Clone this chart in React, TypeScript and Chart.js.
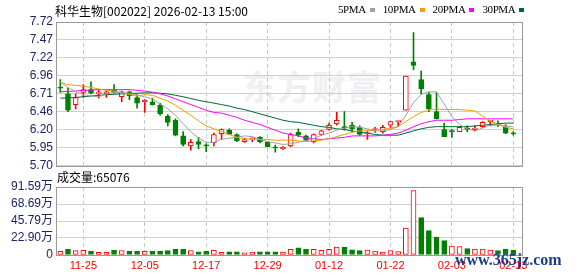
import React, { useEffect, useRef } from "react";
import { Chart, registerables } from "chart.js";

Chart.register(...registerables);

const stockTitle = "科华生物[002022] 2026-02-13 15:00";
const volumeTitle = "成交量";
const lastVolume = "65076";
const maLabels = ["5PMA", "10PMA", "20PMA", "30PMA"];

const dates = [
  "11-20", "11-21", "11-24", "11-25", "11-26", "11-27", "11-28", "12-01", "12-02", "12-03",
  "12-04", "12-05", "12-08", "12-09", "12-10", "12-11", "12-12", "12-15", "12-16", "12-17",
  "12-18", "12-19", "12-22", "12-23", "12-24", "12-25", "12-26", "12-29", "12-30", "12-31",
  "01-05", "01-06", "01-07", "01-08", "01-09", "01-12", "01-13", "01-14", "01-15", "01-16",
  "01-19", "01-20", "01-21", "01-22", "01-23", "01-26", "01-27", "01-28", "01-29", "01-30",
  "02-02", "02-03", "02-04", "02-05", "02-06", "02-09", "02-10", "02-11", "02-12", "02-13",
];
const tickDates = ["11-25", "12-05", "12-17", "12-29", "01-12", "01-22", "02-03", "02-13"];

const opens = [
  6.80, 6.71, 6.56, 6.73, 6.77, 6.71, 6.71, 6.76, 6.67, 6.74,
  6.66, 6.60, 6.60, 6.55, 6.40, 6.34, 6.12, 5.98, 6.04, 5.99,
  6.02, 6.15, 6.20, 6.14, 6.04, 6.08, 6.10, 6.03, 5.96, 5.94,
  5.98, 6.17, 6.12, 6.04, 6.14, 6.21, 6.29, 6.25, 6.27, 6.24,
  6.15, 6.21, 6.18, 6.27, 6.32, 6.48, 7.16, 6.91, 6.70, 6.46,
  6.21, 6.19, 6.18, 6.23, 6.21, 6.25, 6.32, 6.29, 6.24, 6.16,
];
const highs = [
  6.91, 6.79, 6.71, 6.84, 6.88, 6.77, 6.75, 6.84, 6.75, 6.75,
  6.70, 6.63, 6.65, 6.58, 6.42, 6.36, 6.18, 6.07, 6.10, 6.01,
  6.16, 6.22, 6.22, 6.15, 6.09, 6.09, 6.11, 6.04, 5.99, 5.97,
  6.16, 6.22, 6.13, 6.15, 6.20, 6.30, 6.45, 6.46, 6.31, 6.26,
  6.19, 6.24, 6.27, 6.32, 6.33, 6.96, 7.57, 7.03, 6.73, 6.73,
  6.30, 6.21, 6.25, 6.26, 6.26, 6.32, 6.34, 6.33, 6.28, 6.18,
];
const lows = [
  6.73, 6.46, 6.50, 6.66, 6.71, 6.65, 6.66, 6.72, 6.60, 6.63,
  6.51, 6.45, 6.55, 6.41, 6.26, 6.12, 5.98, 5.92, 5.94, 5.90,
  5.98, 6.07, 6.14, 6.04, 6.03, 6.04, 6.02, 5.97, 5.89, 5.93,
  5.97, 6.11, 6.05, 6.02, 6.13, 6.20, 6.27, 6.20, 6.18, 6.13,
  6.07, 6.17, 6.16, 6.23, 6.26, 6.48, 7.05, 6.71, 6.46, 6.36,
  6.11, 6.10, 6.18, 6.18, 6.19, 6.24, 6.26, 6.25, 6.15, 6.13,
];
const closes = [
  6.79, 6.48, 6.66, 6.77, 6.72, 6.73, 6.74, 6.73, 6.74, 6.68,
  6.58, 6.62, 6.56, 6.43, 6.31, 6.13, 6.00, 6.03, 6.00, 5.98,
  6.14, 6.21, 6.14, 6.05, 6.07, 6.08, 6.04, 5.97, 5.95, 5.96,
  6.14, 6.13, 6.06, 6.14, 6.19, 6.27, 6.34, 6.23, 6.22, 6.14,
  6.16, 6.21, 6.24, 6.32, 6.33, 6.96, 7.11, 6.78, 6.50, 6.36,
  6.11, 6.18, 6.24, 6.21, 6.23, 6.31, 6.34, 6.28, 6.16, 6.15,
];
// volume in 万
const volumes = [
  5.0, 7.5, 6.0, 6.2, 5.0, 3.6, 3.6, 6.3, 6.0, 5.0,
  5.0, 5.0, 5.0, 5.0, 6.0, 7.8, 7.8, 6.0, 4.2, 5.0,
  6.3, 3.6, 4.2, 4.2, 2.8, 3.8, 4.2, 4.2, 4.2, 3.8,
  7.6, 9.6, 7.8, 7.8, 6.3, 7.8, 10.5, 10.5, 7.0, 5.8,
  6.7, 5.4, 4.0, 5.8, 4.5, 36.4, 86.6, 50.3, 32.8, 23.8,
  19.3, 12.1, 11.2, 8.5, 8.1, 8.1, 6.7, 5.8, 8.1, 6.5,
];
const ma5 = [
  6.88, 6.80, 6.74, 6.70, 6.68, 6.67, 6.71, 6.73, 6.73, 6.72,
  6.69, 6.67, 6.64, 6.57, 6.50, 6.41, 6.29, 6.18, 6.09, 6.03,
  6.03, 6.07, 6.09, 6.10, 6.12, 6.11, 6.07, 6.04, 6.02, 6.00,
  6.01, 6.03, 6.05, 6.08, 6.13, 6.16, 6.20, 6.23, 6.25, 6.24,
  6.22, 6.19, 6.19, 6.21, 6.25, 6.41, 6.59, 6.70, 6.74, 6.74,
  6.57, 6.39, 6.28, 6.22, 6.19, 6.23, 6.27, 6.27, 6.26, 6.25,
];
const ma10 = [
  6.87, 6.84, 6.83, 6.82, 6.80, 6.78, 6.76, 6.75, 6.73, 6.70,
  6.68, 6.70, 6.69, 6.65, 6.61, 6.55, 6.48, 6.41, 6.33, 6.26,
  6.22, 6.18, 6.14, 6.10, 6.08, 6.07, 6.07, 6.07, 6.06, 6.06,
  6.06, 6.05, 6.04, 6.05, 6.06, 6.08, 6.11, 6.14, 6.17, 6.19,
  6.19, 6.20, 6.21, 6.23, 6.25, 6.32, 6.39, 6.45, 6.48, 6.50,
  6.49, 6.49, 6.49, 6.48, 6.47, 6.40, 6.33, 6.28, 6.24, 6.22,
];
const ma20 = [
  6.74, 6.745, 6.75, 6.76, 6.765, 6.77, 6.77, 6.77, 6.77, 6.77,
  6.76, 6.75, 6.735, 6.71, 6.68, 6.64, 6.60, 6.56, 6.52, 6.48,
  6.45, 6.44, 6.41, 6.38, 6.34, 6.31, 6.28, 6.24, 6.20, 6.16,
  6.14, 6.12, 6.09, 6.08, 6.07, 6.08, 6.09, 6.10, 6.12, 6.12,
  6.12, 6.12, 6.13, 6.14, 6.16, 6.20, 6.25, 6.29, 6.32, 6.34,
  6.34, 6.34, 6.35, 6.36, 6.36, 6.36, 6.36, 6.36, 6.36, 6.36,
];
const ma30 = [
  6.65, 6.655, 6.66, 6.67, 6.68, 6.69, 6.70, 6.705, 6.71, 6.715,
  6.72, 6.725, 6.725, 6.72, 6.71, 6.69, 6.67, 6.645, 6.62, 6.60,
  6.58, 6.56, 6.54, 6.51, 6.49, 6.46, 6.43, 6.40, 6.37, 6.34,
  6.32, 6.31, 6.29, 6.27, 6.25, 6.24, 6.22, 6.21, 6.19, 6.17,
  6.16, 6.14, 6.13, 6.13, 6.13, 6.16, 6.19, 6.22, 6.24, 6.25,
  6.25, 6.25, 6.25, 6.25, 6.26, 6.27, 6.28, 6.29, 6.30, 6.30,
];
const priceTickLabels = ["5.70", "5.95", "6.20", "6.46", "6.71", "6.96", "7.22", "7.47", "7.72"];
const volumeTickValues = [0, 22.9, 45.79, 68.69, 91.59];

const RED = "#ff0000";
const GREEN = "#008000";
const MA_COLORS = ["#a0a0a0", "#f0a000", "#ff00ff", "#006633"];
const GRID = "#d0d0d0";
const VGRID = "#c8c8c8";
const FRAME = "#999999";
const AXIS_TEXT = "#1b2566";
const X_MIN = -0.56;
const X_MAX = 60.13;

const framePlugin = {
  id: "frame",
  afterDraw(chart: any) {
    const { ctx, chartArea: a } = chart;
    ctx.save();
    ctx.strokeStyle = FRAME;
    ctx.lineWidth = 1;
    ctx.strokeRect(Math.round(a.left) + 0.5, Math.round(a.top) + 0.5, Math.round(a.right - a.left), Math.round(a.bottom - a.top));
    ctx.restore();
  },
};

const tickIdx = tickDates.map((d) => dates.indexOf(d));

function xScale(showLabels: boolean) {
  return {
    type: "linear" as const,
    min: X_MIN,
    max: X_MAX,
    offset: false,
    afterBuildTicks: (s: any) => {
      s.ticks = tickIdx.map((v) => ({ value: v }));
    },
    grid: { color: VGRID, drawTicks: false, offset: false, lineWidth: 1 },
    border: { display: false, dash: [4, 3] },
    ticks: {
      display: showLabels,
      autoSkip: false,
      maxRotation: 0,
      padding: 4,
      color: RED,
      font: { family: "'Liberation Sans', sans-serif", size: 11 },
      callback: (v: any) => dates[v] ?? "",
    },
    afterFit: (s: any) => {
      s.height = showLabels ? 21 : 0;
    },
  };
}

export default function App() {
  const priceRef = useRef<HTMLCanvasElement>(null);
  const volRef = useRef<HTMLCanvasElement>(null);

  useEffect(() => {
    const up = closes.map((c, i) => c >= opens[i]);
    const volUp = closes.map((c, i) => (i === 0 ? true : c >= closes[i - 1]));
    const yMin = parseFloat(priceTickLabels[0]);
    const yMax = parseFloat(priceTickLabels[priceTickLabels.length - 1]);
    const yStep = (yMax - yMin) / (priceTickLabels.length - 1);
    const mas = [ma5, ma10, ma20, ma30];

    const priceChart = new Chart(priceRef.current!, {
      type: "bar",
      data: {
        datasets: [
          ...mas.map((arr, k) => ({
            type: "line" as const,
            label: maLabels[k],
            data: arr.map((v, i) => ({ x: i, y: v })),
            borderColor: MA_COLORS[k],
            borderWidth: 1,
            pointRadius: 0,
            tension: 0,
            order: 0,
          })),
          {
            type: "bar" as const,
            label: "body",
            data: opens.map((o, i) => ({ x: i, y: [o, closes[i]] })),
            backgroundColor: up.map((u) => (u ? "#ffffff" : GREEN)),
            borderColor: up.map((u) => (u ? RED : GREEN)),
            borderWidth: 1,
            borderSkipped: false,
            barThickness: 5,
            minBarLength: 1,
            grouped: false,
            order: 1,
          },
          {
            type: "bar" as const,
            label: "wick",
            data: lows.map((l, i) => ({ x: i, y: [l, highs[i]] })),
            backgroundColor: up.map((u) => (u ? RED : GREEN)),
            borderWidth: 0,
            barThickness: 1,
            grouped: false,
            order: 2,
          },
        ] as any,
      },
      options: {
        responsive: false,
        animation: false,
        events: [],
        layout: { padding: { top: 22, right: 56, bottom: 10, left: 0 } },
        plugins: { legend: { display: false }, tooltip: { enabled: false } },
        scales: {
          x: xScale(false) as any,
          y: {
            type: "linear",
            min: yMin,
            max: yMax,
            afterBuildTicks: (s: any) => {
              s.ticks = priceTickLabels.map((_, k) => ({ value: yMin + k * yStep }));
            },
            ticks: {
              callback: (_v: any, k: number) => priceTickLabels[k],
              color: AXIS_TEXT,
              font: { family: "'Liberation Sans', sans-serif", size: 12 },
              padding: 3,
              autoSkip: false,
            },
            grid: { color: GRID, drawTicks: false },
            border: { display: false },
            afterFit: (s: any) => {
              s.width = 56;
            },
          } as any,
        },
      },
      plugins: [framePlugin],
    });

    const vMax = volumeTickValues[volumeTickValues.length - 1];
    const volChart = new Chart(volRef.current!, {
      type: "bar",
      data: {
        datasets: [
          {
            label: "volume",
            data: volumes.map((v, i) => ({ x: i, y: v })),
            backgroundColor: volUp.map((u) => (u ? "#ffffff" : GREEN)),
            borderColor: volUp.map((u) => (u ? RED : GREEN)),
            borderWidth: 1,
            borderSkipped: false,
            barThickness: 5,
            grouped: false,
          } as any,
        ],
      },
      options: {
        responsive: false,
        animation: false,
        events: [],
        layout: { padding: { top: 11, right: 56, bottom: 0, left: 0 } },
        plugins: { legend: { display: false }, tooltip: { enabled: false } },
        scales: {
          x: xScale(true) as any,
          y: {
            type: "linear",
            min: 0,
            max: vMax,
            afterBuildTicks: (s: any) => {
              s.ticks = volumeTickValues.map((v) => ({ value: v }));
            },
            ticks: {
              callback: (v: any) => (v === 0 ? "0" : Number(v).toFixed(2) + "万"),
              color: AXIS_TEXT,
              font: { family: "'Liberation Sans', 'Noto Sans CJK SC', sans-serif", size: 12 },
              padding: 3,
              autoSkip: false,
            },
            grid: { color: GRID, drawTicks: false },
            border: { display: false },
            afterFit: (s: any) => {
              s.width = 56;
            },
          } as any,
        },
      },
      plugins: [framePlugin],
    });

    return () => {
      priceChart.destroy();
      volChart.destroy();
    };
  }, []);

  const cjk = "'Noto Sans CJK SC', sans-serif";
  return (
    <div
      style={{
        position: "fixed",
        left: 0,
        top: 0,
        width: 578,
        height: 276,
        background: "#ffffff",
        overflow: "hidden",
      }}
    >
      <div
        style={{
          position: "absolute",
          left: 242,
          top: 66,
          fontFamily: cjk,
          fontWeight: 700,
          fontSize: 34,
          lineHeight: "40px",
          color: "#f0f0f3",
          letterSpacing: 1,
          whiteSpace: "nowrap",
        }}
      >
        东方财富
      </div>
      <canvas ref={priceRef} width={578} height={176} style={{ position: "absolute", left: 0, top: 0, width: 578, height: 176 }} />
      <canvas ref={volRef} width={578} height={100} style={{ position: "absolute", left: 0, top: 176, width: 578, height: 100 }} />
      <div
        style={{
          position: "absolute",
          left: 55,
          top: 3,
          fontFamily: cjk,
          fontSize: 12,
          lineHeight: "16px",
          color: "#000",
          whiteSpace: "nowrap",
        }}
      >
        {stockTitle}
      </div>
      <div
        style={{
          position: "absolute",
          left: 338,
          top: 2,
          display: "flex",
          alignItems: "center",
          height: 14,
          fontFamily: "'Liberation Serif', serif",
          fontSize: 11,
          letterSpacing: -0.4,
          color: "#000",
          whiteSpace: "nowrap",
        }}
      >
        {maLabels.map((l, k) => (
          <span key={l} style={{ display: "flex", alignItems: "center", marginRight: 8 }}>
            <span>{l}</span>
            <span style={{ display: "inline-block", width: 5, height: 4, background: MA_COLORS[k], marginLeft: 4, marginTop: 2 }} />
          </span>
        ))}
      </div>
      <div
        style={{
          position: "absolute",
          left: 57,
          top: 169,
          fontFamily: cjk,
          fontSize: 12,
          lineHeight: "16px",
          color: "#000",
          whiteSpace: "nowrap",
        }}
      >
        {volumeTitle}:{lastVolume}
      </div>
      <div
        style={{
          position: "absolute",
          left: 455,
          top: 251,
          fontFamily: "'Liberation Serif', serif",
          fontWeight: 700,
          fontSize: 16,
          lineHeight: "18px",
          color: "#1f3d86",
          whiteSpace: "nowrap",
        }}
      >
        www.365jz.com
      </div>
    </div>
  );
}
